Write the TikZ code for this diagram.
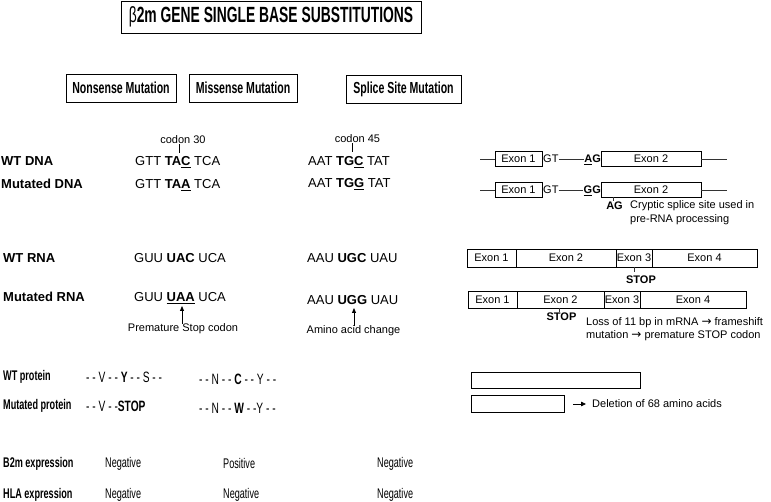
\documentclass[tikz,border=0pt]{standalone}
\usepackage{fontspec}
\setmainfont{Liberation Sans}
\newfontfamily\hnar[FakeStretch=0.66]{Liberation Sans}
\newfontfamily\nar[FakeStretch=0.65]{Liberation Sans}
\newfontfamily\pnar[FakeStretch=0.68]{Liberation Sans}
\newfontfamily\tnar[FakeStretch=0.63]{Liberation Sans}
\newfontfamily\dv{DejaVu Sans}
\newcommand{\rarr}{{\dv\fontsize{12}{12}\selectfont →}}
\usetikzlibrary{arrows.meta}
\begin{document}
\begin{tikzpicture}[x=1pt,y=-1pt,
  box/.style={draw, line width=0.9pt, inner sep=0pt},
  ex/.style={draw, line width=0.7pt, inner sep=0pt, outer sep=0pt, minimum height=15pt, font=\fontsize{11}{13}\selectfont},
  seq/.style={anchor=base west, inner sep=0pt, font=\fontsize{13}{15}\selectfont},
  lab/.style={anchor=base west, inner sep=0pt, font=\fontsize{13}{15}\selectfont\bfseries},
  nlab/.style={anchor=west, inner sep=0pt, font=\nar\fontsize{14}{16}\selectfont\bfseries},
  nval/.style={anchor=west, inner sep=0pt, font=\nar\fontsize{14}{16}\selectfont},
  pseq/.style={anchor=west, inner sep=0pt, font=\pnar\fontsize{15}{17}\selectfont},
  small/.style={inner sep=0pt, font=\fontsize{11}{13}\selectfont},
  smallb/.style={inner sep=0pt, font=\fontsize{11}{13}\selectfont\bfseries},
  hdr/.style={box, minimum height=28pt, font=\hnar\fontsize{16}{18}\selectfont\bfseries},
  ln/.style={line width=0.7pt, draw=black!80},
  upar/.style={line width=0.8pt, -{Triangle[length=5pt,width=4pt]}}]
\useasboundingbox (0,0) rectangle (771,502);

% title and headers
\node[box, minimum width=300pt, minimum height=32pt, font=\tnar\fontsize{22}{24}\selectfont\bfseries] (title) at (271,17) {{\mdseries β}2m GENE SINGLE BASE SUBSTITUTIONS};
\node[hdr, minimum width=110pt] (h1) at (121,88) {Nonsense Mutation};
\node[hdr, minimum width=108pt] (h2) at (243,88) {Missense Mutation};
\node[hdr, minimum width=115pt] (h3) at (403.5,89) {Splice Site Mutation};

% row labels
\node[lab] (l1) at (1,166) {WT DNA};
\node[lab] (l2) at (1,189) {Mutated DNA};
\node[lab] (l3) at (3,263) {WT RNA};
\node[lab] (l4) at (3,302) {Mutated RNA};
\node[nlab] (l5) at (3,377) {WT protein};
\node[nlab] (l6) at (3,406) {Mutated protein};
\node[nlab] (l7) at (3,464) {B2m expression};
\node[nlab] (l8) at (3,495) {HLA expression};

% DNA sequences
\node[seq] (s1) at (135,166) {GTT \textbf{TA\underline{C}} TCA};
\node[seq] (s2) at (135,189) {GTT \textbf{TA\underline{A}} TCA};
\node[seq] (s3) at (308,166) {AAT \textbf{TG\underline{C}} TAT};
\node[seq] (s4) at (308,188) {AAT \textbf{TG\underline{G}} TAT};
\node[small] (c30) at (183,140) {codon 30};
\coordinate (c30t) at (179,153);
\draw[line width=0.6pt] (c30.south -| c30t) -- (c30t);
\node[small] (c45) at (357.5,139) {codon 45};
\coordinate (c45t) at (352,152);
\draw[line width=0.6pt] (c45.south -| c45t) -- (c45t);

% RNA sequences
\node[seq] (r1) at (134,263) {GUU \textbf{UAC} UCA};
\node[seq] (r2) at (134,302) {GUU \textbf{\underline{UAA}} UCA};
\node[seq] (r3) at (307,263) {AAU \textbf{UGC} UAU};
\node[seq] (r4) at (307,305) {AAU \textbf{UGG} UAU};
\node[small] (pm) at (183,329) {Premature Stop codon};
\coordinate (pmtip) at (182,306);
\draw[upar] (pm.north -| pmtip) -- (pmtip);
\node[small] (aa) at (353.5,331) {Amino acid change};
\coordinate (aatip) at (354,308);
\draw[upar] (aa.north -| aatip) -- (aatip);

% protein sequences
\node[pseq] (p1) at (86,377) {- - V - - \textbf{Y} - - S - -};
\node[pseq] (p2) at (86,406) {- - V - -\textbf{STOP}};
\node[pseq] (p3) at (199,379) {- - N - - \textbf{C} - - Y - -};
\node[pseq] (p4) at (199,408) {- - N - - \textbf{W} - -Y - -};

% expression
\node[nval] (e1) at (105,464) {Negative};
\node[nval] (e2) at (223,463) {Positive};
\node[nval] (e3) at (377,464) {Negative};
\node[nval] (e4) at (105,495) {Negative};
\node[nval] (e5) at (223,495) {Negative};
\node[nval] (e6) at (377,495) {Negative};

% splice site DNA, WT
\coordinate (a0) at (480,159);
\node[ex, minimum width=47pt] (a1) at (518.5,159) {Exon 1};
\node[small, anchor=base west] (a2) at (543,163) {GT};
\node[smallb, anchor=base east] (a3) at (601,163) {\underline{A}G};
\node[ex, minimum width=100pt] (a4) at (651,159) {Exon 2};
\coordinate (a5) at (727,159);
\draw[ln] (a0) -- (a1.west);
\draw[ln] (a2.east |- a0) -- (a3.west |- a0);
\draw[ln] (a4.east) -- (a5);

% splice site DNA, mutated
\coordinate (b0) at (480,190);
\node[ex, minimum width=47pt] (b1) at (518.5,190) {Exon 1};
\node[small, anchor=base west] (b2) at (543,194) {GT};
\node[smallb, anchor=base east] (b3) at (601,194) {\underline{G}G};
\node[ex, minimum width=100pt] (b4) at (651,190) {Exon 2};
\coordinate (b5) at (727,190);
\draw[ln] (b0) -- (b1.west);
\draw[ln] (b2.east |- b0) -- (b3.west |- b0);
\draw[ln] (b4.east) -- (b5);
\coordinate (bt) at (613,201);
\draw[ln] (b4.south -| bt) -- (bt);
\node[smallb] (bag) at (614.5,206) {AG};
\node[small, anchor=west] (cr1) at (630,206) {Cryptic splice site used in};
\node[small, anchor=west] (cr2) at (630,220) {pre-RNA processing};

% RNA exons WT
\node[ex, minimum width=49pt, minimum height=18pt, anchor=west] (w1) at (467,258) {Exon 1};
\node[ex, minimum width=100pt, minimum height=18pt, anchor=west] (w2) at (w1.east) {Exon 2};
\node[ex, minimum width=36pt, minimum height=18pt, anchor=west] (w3) at (w2.east) {Exon 3};
\node[ex, minimum width=105pt, minimum height=18pt, anchor=west] (w4) at (w3.east) {Exon 4};
\coordinate (t1) at (634,272.5);
\draw[ln] (w3.south -| t1) -- (t1);
\node[smallb] (st1) at (641,280) {STOP};

% RNA exons mutated
\node[ex, minimum width=49pt, minimum height=17pt, anchor=west] (m1) at (468,299.5) {Exon 1};
\node[ex, minimum width=87pt, minimum height=17pt, anchor=west] (m2) at (m1.east) {Exon 2};
\node[ex, minimum width=36pt, minimum height=17pt, anchor=west] (m3) at (m2.east) {Exon 3};
\node[ex, minimum width=106pt, minimum height=17pt, anchor=west] (m4) at (m3.east) {Exon 4};
\coordinate (t2) at (559,312);
\draw[ln] (m2.south -| t2) -- (t2);
\node[smallb] (st2) at (561.5,317) {STOP};
\node[small, anchor=west] (lo1) at (586,323) {Loss of 11 bp in mRNA \rarr{} frameshift};
\node[small, anchor=west] (lo2) at (586,336) {mutation \rarr{} premature STOP codon};

% protein bars
\node[ex, minimum width=169pt, minimum height=16pt, anchor=north west] (pb1) at (471,372) {};
\node[ex, minimum width=93pt, minimum height=17pt, anchor=north west] (pb2) at (471,395) {};
\coordinate (da) at (573,404);
\node[small, anchor=west] (del) at (592,404) {Deletion of 68 amino acids};
\draw[line width=0.8pt, -{Triangle[length=5pt,width=4.5pt]}, shorten >=6pt] (da) -- (del.west);
\end{tikzpicture}
\end{document}
